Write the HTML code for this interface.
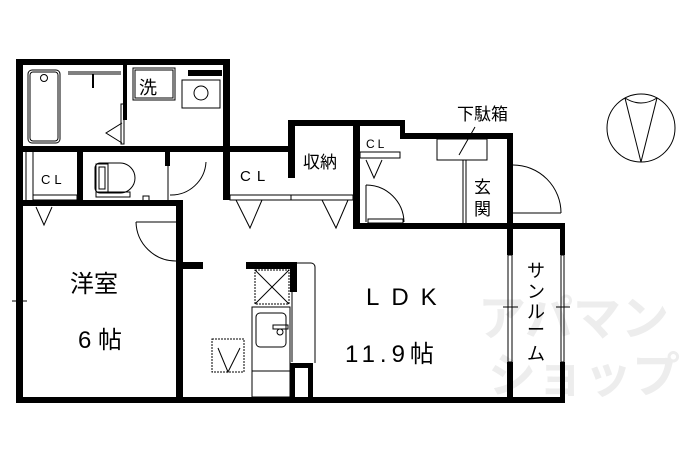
<!DOCTYPE html>
<html><head><meta charset="utf-8"><style>
html,body{margin:0;padding:0;background:#fff;}
svg{display:block;}
text{font-family:"Liberation Sans","Noto Sans CJK JP",sans-serif;fill:#000;}
text.wm{fill:#ededed;}
</style></head><body>
<svg width="690" height="460" viewBox="0 0 690 460" xmlns="http://www.w3.org/2000/svg">
<!-- watermark -->
<g font-size="48" font-weight="bold">
<text class="wm" x="478" y="335">アパマン</text>
<text class="wm" x="488" y="392">ショップ</text>
</g>
<g fill="#000">
<rect x="16" y="59" width="214" height="6"/>
<rect x="16" y="59" width="7" height="344"/>
<rect x="223" y="59" width="7" height="141"/>
<rect x="123" y="65" width="4" height="55"/>
<rect x="16" y="146" width="274" height="6"/>
<rect x="288" y="120" width="7" height="58"/>
<rect x="288" y="120" width="117" height="6"/>
<rect x="353" y="120" width="7" height="107"/>
<rect x="400" y="120" width="5" height="18"/>
<rect x="400" y="133" width="113" height="6"/>
<rect x="507" y="133" width="6" height="122"/>
<rect x="353" y="223" width="212" height="6"/>
<rect x="560" y="223" width="5" height="32"/>
<rect x="507" y="362" width="6" height="41"/>
<rect x="560" y="362" width="5" height="41"/>
<rect x="16" y="397" width="549" height="6"/>
<rect x="77" y="152" width="6" height="50"/>
<rect x="165" y="152" width="5" height="14"/>
<rect x="16" y="200" width="167" height="6"/>
<rect x="176" y="200" width="7" height="203"/>
<rect x="183" y="262" width="20" height="7"/>
<rect x="246" y="262" width="51" height="7"/>
<rect x="290" y="262" width="7" height="30"/>
<rect x="290" y="363" width="23" height="5"/>
<rect x="290" y="363" width="5" height="34"/>
<rect x="308" y="363" width="5" height="34"/>
<rect x="188" y="70" width="34" height="6"/>
</g>
<g fill="none" stroke="#000" stroke-width="1">
<rect x="28" y="70" width="32" height="73" rx="4"/>
<rect x="30" y="72" width="28" height="69" rx="3"/>
<circle cx="44" cy="78" r="3.5"/>
<line x1="68" y1="72" x2="121" y2="72"/><line x1="68" y1="74" x2="121" y2="74"/>
<line x1="93" y1="74" x2="93" y2="88" stroke-width="2"/>
<polyline points="122,123 106,133 122,143"/>
<rect x="121" y="104" width="3" height="40"/>
<rect x="133" y="68" width="42" height="32"/><rect x="135" y="70" width="38" height="28"/>
<rect x="182" y="80" width="38" height="28"/>
<circle cx="201" cy="93" r="7"/>
<rect x="130" y="148" width="45" height="3"/>
<rect x="176" y="148" width="44" height="3"/>
<line x1="26" y1="152" x2="26" y2="200"/><line x1="33" y1="152" x2="33" y2="200"/>
<rect x="33" y="195" width="44" height="5"/>
<polyline points="36,207 44,225 52,207"/>
<path d="M100,163 h20 a15,15 0 0 1 0,30 h-20 a5,5 0 0 1 -5,-5 v-20 a5,5 0 0 1 5,-5z"/>
<rect x="96" y="164" width="12" height="28"/>
<rect x="99" y="167" width="6" height="22"/>
<rect x="96" y="192" width="34" height="5"/>
<rect x="143" y="196" width="6" height="5"/>
<line x1="168" y1="166" x2="168" y2="200"/>
<path d="M170,195 A35,35 0 0 0 206,162" />
<path d="M136,222 A40,40 0 0 0 176,261"/>
<line x1="136" y1="222" x2="176" y2="222"/>
<rect x="179" y="218" width="3" height="44"/>
<rect x="17" y="252" width="5" height="98"/>
<line x1="12" y1="301" x2="27" y2="301"/>
<rect x="230" y="195" width="123" height="5"/><line x1="291" y1="195" x2="291" y2="200"/>
<polyline points="236,200 250,228 262,200"/>
<polyline points="322,200 336,228 348,200"/>
<rect x="360" y="152" width="40" height="6"/>
<polyline points="366,160 374,178 382,160"/>
<path d="M366,185 A38,38 0 0 1 404,222"/>
<line x1="366" y1="185" x2="366" y2="222"/>
<rect x="368" y="219" width="35" height="4"/>
<rect x="437" y="139" width="50" height="21"/>
<line x1="463" y1="160" x2="463" y2="223"/><line x1="466" y1="160" x2="466" y2="223"/>
<line x1="459" y1="155" x2="475" y2="127"/>
<path d="M513,165 A48,48 0 0 1 561,213"/>
<line x1="513" y1="213" x2="561" y2="213"/>
<rect x="508" y="168" width="4" height="45"/>
<rect x="508" y="255" width="4" height="107"/>
<rect x="561" y="255" width="3" height="107"/>
<line x1="503" y1="307" x2="518" y2="307"/>
<line x1="556" y1="307" x2="570" y2="307"/>
<rect x="255" y="270" width="34" height="34" stroke-dasharray="2,1"/>
<line x1="255" y1="270" x2="289" y2="304"/><line x1="289" y1="270" x2="255" y2="304"/>
<rect x="252" y="307" width="38" height="90"/>
<rect x="256" y="313" width="30" height="34" rx="4"/>
<rect x="273" y="325" width="15" height="4"/>
<circle cx="280" cy="332" r="3"/>
<line x1="252" y1="371" x2="290" y2="371"/>
<path d="M297,263 h14 a4,4 0 0 1 4,4 v96"/>
<line x1="292" y1="292" x2="292" y2="362"/>
<rect x="212" y="339" width="32" height="33" stroke-dasharray="2,1"/>
<polyline points="218,348 228,372 240,348"/>
<circle cx="641" cy="128" r="34"/>
<path d="M625,98 Q641,108 657,98"/>
<line x1="625" y1="98" x2="641" y2="162"/><line x1="657" y1="98" x2="641" y2="162"/>
</g>
<text x="139" y="94" font-size="18">洗</text>
<text x="41" y="184" font-size="13" letter-spacing="4">CL</text>
<text x="240" y="181" font-size="15" letter-spacing="6">CL</text>
<text x="303" y="168" font-size="17">収納</text>
<text x="366" y="148" font-size="12" letter-spacing="3">CL</text>
<text x="457" y="120" font-size="17">下駄箱</text>
<text x="474" y="193" font-size="17">玄</text>
<text x="474" y="215" font-size="17">関</text>
<text x="70" y="292" font-size="24">洋室</text>
<text x="78" y="348" font-size="24">6 帖</text>
<text x="366" y="305" font-size="24" letter-spacing="12">LDK</text>
<text x="345" y="362" font-size="24" letter-spacing="5">11.9帖</text>
<g font-size="18">
<text x="527" y="277">サ</text><text x="527" y="298">ン</text><text x="527" y="318">ル</text><text x="527" y="336">ー</text><text x="527" y="360">ム</text>
</g>
</svg>
</body></html>
